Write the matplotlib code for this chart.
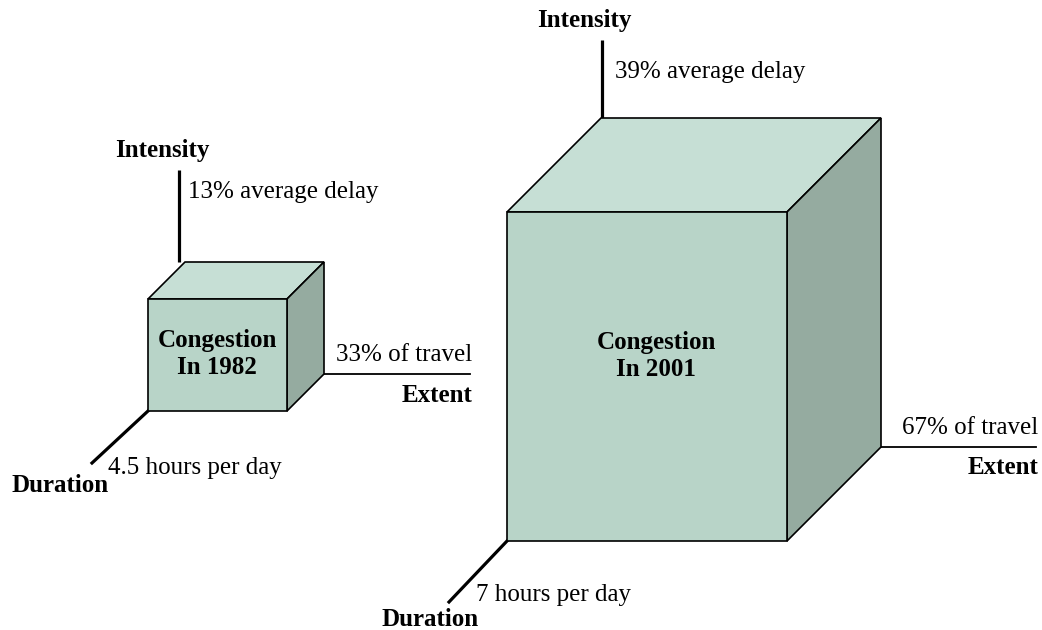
import matplotlib.pyplot as plt
from matplotlib.patches import Polygon

# congestion measures for the two years
years = ["1982", "2001"]
intensity = ["13% average delay", "39% average delay"]
extent = ["33% of travel", "67% of travel"]
duration = ["4.5 hours per day", "7 hours per day"]

# cube layout in pixels: front-left x, front-top y, width, height, depth
cubes = [(148, 299, 139, 112, 37), (507, 212, 280, 329, 94)]
# axis line ends and label anchors (pixels)
int_line = [(179, 170), (602, 40)]          # x, top y
int_label = [(162, 150), (584, 20)]
int_value = [(188, 192), (615, 72)]
ext_end = [470, 1036]
dur_end = [(92, 463), (449, 602)]
dur_value = [(108, 468), (476, 595)]
dur_label = [(60, 485), (430, 620)]
face_label = [(217, 354), (656, 356)]

front_col = "#b8d4c8"
top_col = "#c6dfd5"
side_col = "#95aba0"

plt.rcParams['font.family'] = ['Liberation Serif', 'DejaVu Serif']
fig = plt.figure(figsize=(10.42, 6.3), dpi=100)
ax = fig.add_axes([0, 0, 1, 1])
ax.set_xlim(0, 1042)
ax.set_ylim(630, 0)
ax.axis('off')

fs = 18
for i, (x, y, w, h, d) in enumerate(cubes):
    # faces
    ax.add_patch(Polygon([(x, y), (x + w, y), (x + w + d, y - d), (x + d, y - d)],
                         closed=True, fc=top_col, ec='black', lw=1.2, zorder=2))
    ax.add_patch(Polygon([(x + w, y), (x + w + d, y - d), (x + w + d, y + h - d), (x + w, y + h)],
                         closed=True, fc=side_col, ec='black', lw=1.2, zorder=2))
    ax.add_patch(Polygon([(x, y), (x + w, y), (x + w, y + h), (x, y + h)],
                         closed=True, fc=front_col, ec='black', lw=1.2, zorder=2))

    # intensity axis
    lx, ltop = int_line[i]
    ax.plot([lx, lx], [y - d, ltop], color='black', lw=2.3, solid_capstyle='butt', zorder=1)
    ax.text(*int_label[i], "Intensity", ha='center', va='center',
            fontsize=fs, fontweight='bold')
    ax.text(*int_value[i], intensity[i], ha='left', va='center', fontsize=fs)

    # extent axis
    ey = y + h - d
    ax.plot([x + w + d, ext_end[i]], [ey, ey], color='black', lw=1.3, zorder=1)
    ax.text(ext_end[i] + 2, ey - 19, extent[i], ha='right', va='center', fontsize=fs)
    ax.text(ext_end[i] + 2, ey + 21, "Extent", ha='right', va='center',
            fontsize=fs, fontweight='bold')

    # duration axis
    ax.plot([x, dur_end[i][0]], [y + h, dur_end[i][1]], color='black', lw=2.3, zorder=1)
    ax.text(*dur_value[i], duration[i], ha='left', va='center', fontsize=fs)
    ax.text(*dur_label[i], "Duration", ha='center', va='center',
            fontsize=fs, fontweight='bold')

    # label on front face
    ax.text(*face_label[i], "Congestion\nIn " + years[i],
            ha='center', va='center', fontsize=fs, fontweight='bold',
            linespacing=1.25, zorder=3)

fig.savefig("out.png", dpi=100)
